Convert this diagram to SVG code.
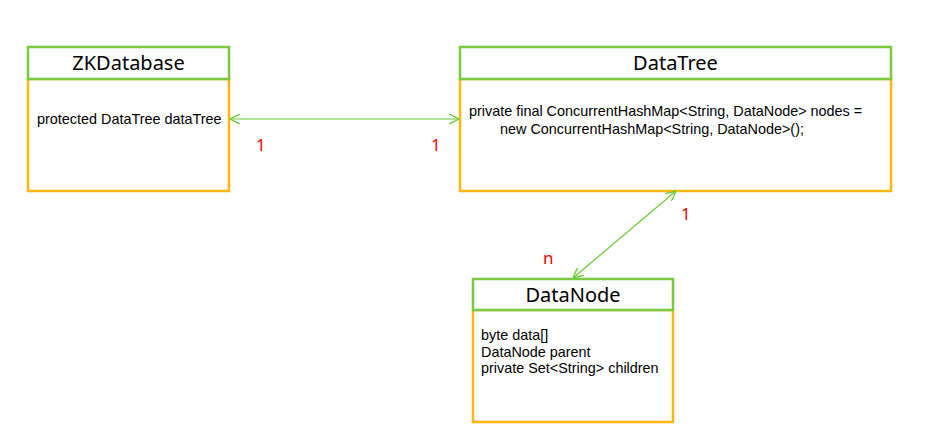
<svg xmlns="http://www.w3.org/2000/svg" width="947" height="429" viewBox="0 0 947 429">
<style>
.hdr{fill:#fff;stroke:#7ac943;stroke-width:2.5}
.body{fill:#fff;stroke:#ffb612;stroke-width:2.5}
.title{font-family:"Noto Sans","Open Sans",sans-serif;font-size:20px;fill:#000;text-anchor:middle}
.txt{font-family:"Liberation Sans",Arial,sans-serif;font-size:14.4px;fill:#000}
.mult{font-family:"Noto Sans","Open Sans",sans-serif;font-size:17px;fill:#ff0000}
.conn{stroke:#66cc33;stroke-width:1.2;fill:none}
</style>
<defs>
<marker id="arr" viewBox="0 0 10 10" refX="10" refY="5" markerWidth="10" markerHeight="10" markerUnits="userSpaceOnUse" orient="auto-start-reverse">
<path d="M0,0 L10,5 L0,10" fill="none" stroke="#66cc33" stroke-width="1.3"/>
</marker>
</defs>
<rect width="947" height="429" fill="#fff"/>
<g id="ZKDatabase">
<rect class="body" x="28" y="79" width="201" height="112"/>
<rect class="hdr" x="28" y="47" width="201" height="32"/>
<text class="title" x="128.5" y="70">ZKDatabase</text>
<text class="txt" x="37" y="124">protected DataTree dataTree</text>
</g>
<g id="DataTree">
<rect class="body" x="460" y="79" width="431" height="112"/>
<rect class="hdr" x="460" y="47" width="431" height="32"/>
<text class="title" x="675.5" y="70">DataTree</text>
<text class="txt" x="469" y="116">private final ConcurrentHashMap&lt;String, DataNode&gt; nodes =</text>
<text class="txt" x="500" y="134">new ConcurrentHashMap&lt;String, DataNode&gt;();</text>
</g>
<g id="DataNode">
<rect class="body" x="473" y="310" width="200" height="112"/>
<rect class="hdr" x="473" y="279" width="200" height="31"/>
<text class="title" x="573" y="302">DataNode</text>
<text class="txt" x="481" y="340">byte data[]</text>
<text class="txt" x="481" y="356.5">DataNode parent</text>
<text class="txt" x="481" y="373">private Set&lt;String&gt; children</text>
</g>
<g id="connectors">
<line class="conn" x1="230" y1="119" x2="459" y2="119" marker-start="url(#arr)" marker-end="url(#arr)"/>
<line class="conn" x1="676" y1="191" x2="573" y2="278" marker-start="url(#arr)" marker-end="url(#arr)"/>
<text class="mult" x="256" y="151">1</text>
<text class="mult" x="431" y="151">1</text>
<text class="mult" x="681" y="220">1</text>
<text class="mult" x="543" y="264">n</text>
</g>
</svg>
